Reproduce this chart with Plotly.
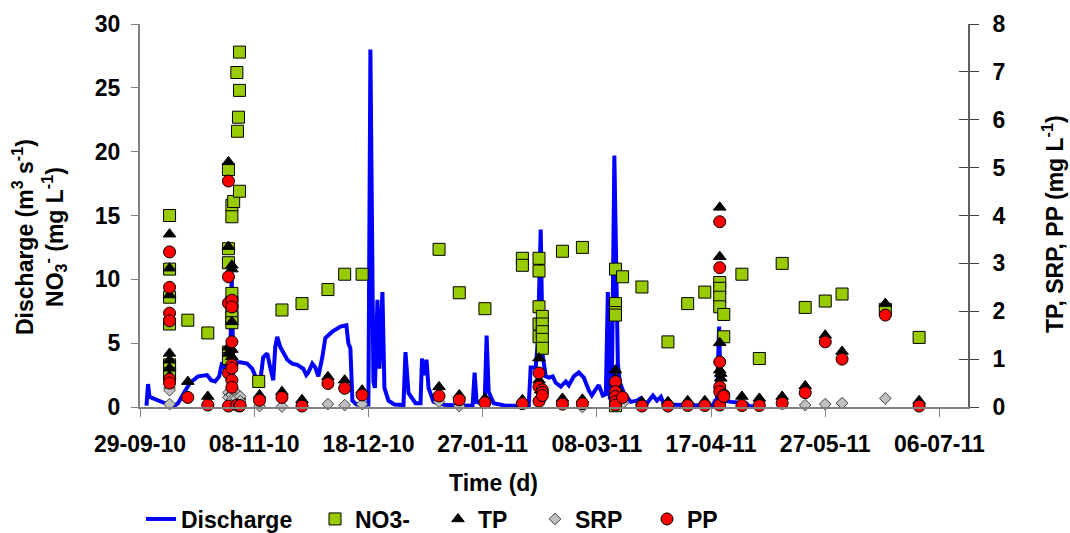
import plotly.graph_objects as go
import pandas as pd

START = pd.Timestamp("2010-09-29")
END = pd.Timestamp("2011-07-16")

# ---- Discharge (m3 s-1), day offsets from 29-09-10 ----
q_day = [2.28, 2.81, 3.33, 7.02, 9.82, 11.58, 13.33, 15.09, 17.54, 20.35, 23.51, 24.91,
         26.32, 27.72, 28.77, 29.82, 30.88, 31.58, 32.11, 32.63, 35.09, 37.54, 39.30,
         41.05, 42.11, 43.16, 44.56, 45.61, 46.67, 47.37, 48.07, 49.12, 51.58, 53.33,
         55.09, 57.19, 58.25, 58.95, 60.35, 61.40, 62.46, 63.86, 64.91, 67.37, 70.18,
         72.28, 72.98, 73.68, 74.39, 75.79, 80.00, 80.70, 81.75, 82.28, 83.16, 83.86,
         84.91, 85.61, 87.02, 89.12, 92.28, 92.98, 94.04, 96.49, 98.25, 98.77, 99.47,
         100.35, 101.05, 102.81, 107.02, 116.49, 117.19, 117.89, 120.70, 121.40, 122.11,
         123.86, 128.07, 136.14, 136.84, 138.60, 139.30, 140.35, 141.05, 142.11, 143.16,
         144.56, 145.61, 147.37, 149.12, 150.18, 151.93, 153.68, 155.44, 157.19, 158.25,
         159.65, 160.70, 162.11, 163.16, 163.86, 164.56, 165.26, 166.14, 167.37, 168.07,
         169.47, 171.93, 174.04, 175.44, 177.19, 179.65, 181.05, 182.46, 183.51, 189.47,
         200.70, 201.40, 202.11, 202.81, 203.51, 207.02, 212.28, 213.33, 216.84]
q_val = [0.1, 1.8, 0.8, 0.5, 0.2, 0.0, 0.3, 1.0, 1.9, 2.4, 2.5, 2.1,
         2.0, 2.4, 3.5, 3.0, 2.0, 3.0, 10.5, 3.5, 3.5, 3.4, 3.0,
         2.1, 2.0, 3.9, 4.2, 3.1, 2.1, 4.7, 5.5, 4.7, 3.7, 3.4,
         3.3, 3.0, 2.5, 2.7, 3.4, 3.1, 2.4, 3.9, 5.4, 5.9, 6.3,
         6.4, 5.0, 4.6, 0.5, 0.2, 0.2, 28.0, 2.0, 1.5, 8.4, 3.0,
         9.0, 1.5, 0.5, 0.2, 0.15, 4.3, 1.1, 0.3, 0.3, 3.8, 2.5,
         3.7, 1.5, 0.4, 0.15, 0.1, 2.7, 0.4, 0.2, 5.6, 1.2,
         0.3, 0.1, 0.1, 3.1, 3.1, 5.0, 13.9, 4.0, 2.4, 2.3,
         2.4, 1.9, 1.6, 2.0, 1.7, 2.4, 2.7, 2.3, 1.3, 0.9,
         1.4, 1.7, 0.9, 1.0, 9.0, 0.6, 1.5, 19.7, 3.4, 1.9,
         1.1, 0.4, 0.5, 0.7, 0.2, 0.9, 0.5, 0.8, 0.2, 0.15,
         0.1, 0.5, 0.6, 6.3, 0.55, 0.4, 0.3, 0.05, 0.05]

# ---- NO3- (mg L-1), left axis ----
no3_day = [10.35, 10.35, 10.35, 10.35, 10.35, 10.35, 10.35, 16.74, 23.75,
           30.98, 30.98, 30.98, 30.98, 30.98,
           32.18, 32.18, 32.18, 32.18, 32.18, 32.18, 32.18,
           32.81, 33.93, 34.14, 34.49, 34.84, 34.84, 34.84,
           41.58, 49.72, 56.74, 65.82, 71.68, 77.79, 104.74, 111.82, 120.81,
           133.93, 133.93, 139.75, 139.75, 139.75, 139.75, 139.75,
           140.91, 140.91, 140.91, 140.91, 140.91, 147.96, 154.95,
           166.53, 166.53, 166.53, 166.53, 166.53, 169.02, 175.79, 184.91, 191.82, 197.82,
           203.05, 203.05, 203.05, 203.05, 204.46, 204.46,
           210.81, 216.91, 224.91, 232.98, 240.0, 245.89, 261.05, 272.88]
no3_val = [15.0, 10.8, 8.6, 6.5, 3.3, 3.0, 2.6, 6.8, 5.8,
           18.6, 12.4, 11.3, 4.3, 3.8,
           15.8, 14.9, 8.9, 8.2, 7.6, 7.0, 6.6,
           16.1, 26.2, 21.6, 22.7, 27.8, 24.8, 16.9,
           2.0, 7.6, 8.1, 9.2, 10.4, 10.4, 12.35, 8.95, 7.7,
           11.65, 11.1, 11.65, 10.65, 7.85, 6.5, 5.5,
           7.1, 6.5, 5.9, 5.3, 4.6, 12.2, 12.5,
           10.8, 8.1, 7.4, 7.2, 0.1, 10.2, 9.4, 5.1, 8.1, 9.0,
           9.75, 9.3, 8.6, 7.85, 7.25, 5.5,
           10.4, 3.8, 11.25, 7.8, 8.3, 8.85, 7.65, 5.45]

# ---- TP (mg L-1), right axis ----
tp_day = [10.35, 10.35, 10.35, 10.35, 10.35, 10.35, 10.35, 16.74, 23.75,
          30.98, 30.98, 30.98, 30.98, 32.18, 32.18, 32.18, 32.18, 32.18, 33.68, 34.84,
          41.86, 49.72, 56.74, 65.82, 71.68, 77.79, 104.74, 111.82, 120.81, 133.93,
          139.75, 139.75, 140.35, 140.35, 147.96, 154.95,
          166.53, 166.53, 166.53, 166.9, 175.79, 184.91, 191.82, 197.82,
          203.05, 203.05, 203.05, 203.05, 203.4, 203.4,
          210.81, 216.91, 224.91, 232.98, 240.0, 245.89, 261.05, 272.88]
tp_val = [3.61, 2.9, 2.34, 1.12, 0.98, 0.81, 0.65, 0.53, 0.22,
          5.12, 3.35, 1.25, 1.12, 2.96, 2.88, 1.78, 1.2, 1.05, 0.25, 0.22,
          0.25, 0.32, 0.15, 0.63, 0.56, 0.35, 0.42, 0.25, 0.18, 0.15,
          1.02, 0.56, 0.45, 0.35, 0.18, 0.16,
          0.77, 0.6, 0.5, 0.4, 0.11, 0.11, 0.13, 0.13,
          4.17, 3.14, 1.34, 0.77, 0.7, 0.6,
          0.22, 0.18, 0.22, 0.44, 1.5, 1.16, 2.16, 0.13]

# ---- SRP (mg L-1), right axis ----
srp_day = [10.35, 10.35, 10.35, 30.98, 30.98, 32.18, 32.18, 33.68, 33.68, 35.09, 35.09,
           41.86, 49.72, 65.82, 71.68, 77.79, 104.74, 111.82, 140.35, 154.95, 169.02,
           232.98, 240.0, 245.89, 261.05]
srp_val = [0.40, 0.35, 0.06, 0.3, 0.2, 0.25, 0.15, 0.3, 0.18, 0.22, 0.12,
           0.02, 0.01, 0.06, 0.04, 0.06, 0.11, 0.02, 0.15, 0.0, 0.08,
           0.04, 0.06, 0.08, 0.18]

# ---- PP (mg L-1), right axis ----
pp_day = [10.35, 10.35, 10.35, 10.35, 10.35, 10.35, 16.74, 23.75,
          30.98, 30.98, 30.98, 30.98, 30.98,
          32.18, 32.18, 32.18, 32.18, 32.18, 32.18, 32.18, 33.93, 34.84, 35.09,
          41.86, 49.72, 56.74, 65.82, 71.68, 77.79, 104.74, 111.82, 120.81, 133.93,
          139.75, 139.75, 139.75, 140.91, 140.91, 140.91, 147.96, 154.95,
          166.53, 166.53, 166.53, 166.53, 166.53, 169.02, 175.79, 184.91, 191.82, 197.82,
          203.05, 203.05, 203.05, 203.05, 203.05, 203.05, 204.46, 204.46,
          210.81, 216.91, 224.91, 232.98, 240.0, 245.89, 261.05, 272.88]
pp_val = [3.24, 2.5, 1.96, 1.8, 0.58, 0.5, 0.2, 0.04,
          4.72, 2.72, 2.17, 0.71, 0.02,
          2.23, 2.09, 1.36, 0.88, 0.81, 0.56, 0.41, 0.04, 0.02, 0.03,
          0.14, 0.2, 0.02, 0.49, 0.39, 0.25, 0.23, 0.15, 0.09, 0.07,
          0.71, 0.42, 0.12, 0.36, 0.3, 0.24, 0.06, 0.07,
          0.53, 0.32, 0.22, 0.11, 0.04, 0.2, 0.02, 0.02, 0.03, 0.03,
          3.87, 2.91, 0.94, 0.42, 0.32, 0.04, 0.25, 0.22,
          0.03, 0.03, 0.08, 0.30, 1.36, 1.0, 1.92, 0.02]

x_tick_step_days = 40


def to_dates(days):
    return [START + pd.Timedelta(days=d) for d in days]


FONT = "Liberation Sans, Arial, sans-serif"
FS = 23
W, H = 1070, 533
ML, MR, MT, MB = 140, 102, 24, 126
PW, PH = W - ML - MR, H - MT - MB

fig = go.Figure()
fig.add_trace(go.Scatter(x=to_dates(q_day), y=q_val, mode="lines", name="Discharge",
                         line=dict(color="#0000FF", width=4), yaxis="y", legend="legend"))
fig.add_trace(go.Scatter(x=to_dates(no3_day), y=no3_val, mode="markers", name="NO3-",
                         marker=dict(symbol="square", size=12, color="#99CC00",
                                     line=dict(color="#000000", width=1)),
                         cliponaxis=False, yaxis="y", legend="legend2"))
fig.add_trace(go.Scatter(x=to_dates(tp_day), y=tp_val, mode="markers", name="TP",
                         marker=dict(symbol="triangle-up", size=11, color="#000000",
                                     line=dict(color="#000000", width=1)),
                         cliponaxis=False, yaxis="y2", legend="legend3"))
fig.add_trace(go.Scatter(x=to_dates(srp_day), y=srp_val, mode="markers", name="SRP",
                         marker=dict(symbol="diamond", size=9, color="#C0C0C0",
                                     line=dict(color="#404040", width=1)),
                         cliponaxis=False, yaxis="y2", legend="legend4"))
fig.add_trace(go.Scatter(x=to_dates(pp_day), y=pp_val, mode="markers", name="PP",
                         marker=dict(symbol="circle", size=12, color="#FF0000",
                                     line=dict(color="#000000", width=1)),
                         cliponaxis=False, yaxis="y2", legend="legend5"))
# helper (empty) trace so the inner tick axis on the right is drawn
fig.add_trace(go.Scatter(x=[None], y=[None], yaxis="y3", showlegend=False, hoverinfo="skip"))

axis_col = "#808080"
tickfont = dict(family=FONT, size=FS, color="#000000", weight="bold")

fig.update_layout(
    width=W, height=H,
    margin=dict(l=ML, r=MR, t=MT, b=MB, pad=0),
    paper_bgcolor="white", plot_bgcolor="white",
    font=dict(family=FONT, size=FS, color="#000000", weight="bold"),
    xaxis=dict(type="date", range=[START, END], tick0=START,
               dtick=x_tick_step_days * 86400000, tickformat="%d-%m-%y",
               ticks="outside", ticklen=8, tickcolor=axis_col, tickwidth=1,
               showline=True, linecolor=axis_col, linewidth=2,
               showgrid=False, zeroline=False, tickfont=tickfont, ticklabelstandoff=7),
    yaxis=dict(range=[0, 30], dtick=5, ticks="outside", ticklen=7, tickcolor=axis_col,
               showline=True, linecolor=axis_col, linewidth=2, showgrid=False,
               zeroline=False, tickfont=tickfont, ticklabelstandoff=6),
    yaxis2=dict(range=[0, 8], dtick=1, overlaying="y", side="right", anchor="x",
                ticks="outside", ticklen=9, tickcolor="#404040", showline=True,
                linecolor="#606060", linewidth=2, showgrid=False, zeroline=False,
                tickfont=tickfont, ticklabelstandoff=9),
    yaxis3=dict(range=[0, 8], dtick=1, overlaying="y", side="right", anchor="x",
                ticks="inside", ticklen=9, tickcolor="#404040", showline=False,
                showticklabels=False, showgrid=False, zeroline=False),
    showlegend=True,
)

legend_left_px = [141, 315, 438, 535, 647]
legend_names = ["legend", "legend2", "legend3", "legend4", "legend5"]
for name, lx in zip(legend_names, legend_left_px):
    fig.update_layout({name: dict(x=lx / W, xref="container", y=(H - 519) / H, yref="container",
                                  xanchor="left", yanchor="middle", orientation="h",
                                  bgcolor="rgba(0,0,0,0)", borderwidth=0,
                                  font=dict(family=FONT, size=FS, color="#000000", weight="bold"))})

def px_x(px):
    return (px - ML) / PW

def px_y(py):
    return (H - MB - py) / PH

fig.add_annotation(text="Discharge (m<sup>3</sup> s<sup>-1</sup>)<br>NO<sub>3</sub><sup>-</sup> (mg L<sup>-1</sup>)",
                   xref="paper", yref="paper", x=px_x(39), y=px_y(237), textangle=-90,
                   showarrow=False, xanchor="center", yanchor="middle",
                   font=dict(family=FONT, size=FS, color="#000000", weight="bold"))
fig.add_annotation(text="TP, SRP, PP (mg L<sup>-1</sup>)",
                   xref="paper", yref="paper", x=px_x(1053), y=px_y(224), textangle=-90,
                   showarrow=False, xanchor="center", yanchor="middle",
                   font=dict(family=FONT, size=FS, color="#000000", weight="bold"))
fig.add_annotation(text="Time (d)", xref="paper", yref="paper", x=px_x(493), y=px_y(483),
                   showarrow=False, xanchor="center", yanchor="middle",
                   font=dict(family=FONT, size=FS, color="#000000", weight="bold"))

fig.write_html("out.html")
